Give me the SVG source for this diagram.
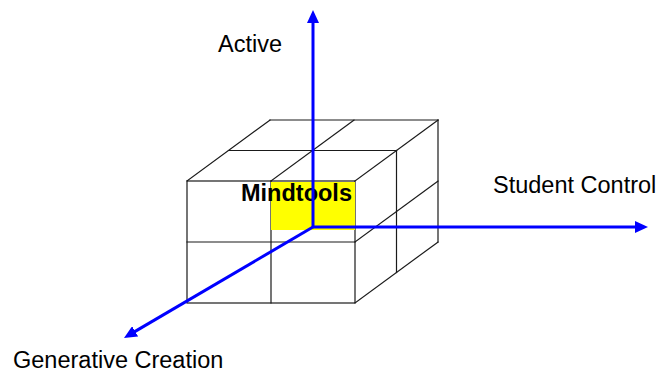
<svg xmlns="http://www.w3.org/2000/svg" width="672" height="372" viewBox="0 0 672 372">
<style>
.edge{stroke:#1a1a1a;stroke-width:1.2;fill:none;stroke-linecap:square}
.axis{stroke:#0000ff;stroke-width:3;fill:none}
.lbl{font-family:"Liberation Sans",Arial,sans-serif;font-size:23.5px;fill:#000}
.bold{font-weight:bold}
</style>
<defs>
<marker id="arr" markerUnits="userSpaceOnUse" markerWidth="14" markerHeight="12" refX="3" refY="6" orient="auto">
<path d="M0,0 L13,6 L0,12 z" fill="#0000ff"/>
</marker>
</defs>
<rect width="672" height="372" fill="#ffffff"/>
<g id="cube">
<rect class="edge" x="187" y="181" width="168" height="122"/>
<line class="edge" x1="271" y1="181" x2="271" y2="303"/>
<line class="edge" x1="187" y1="242" x2="355" y2="242"/>
<line class="edge" x1="228.5" y1="150.5" x2="396.5" y2="150.5"/>
<line class="edge" x1="270" y1="120" x2="438" y2="120"/>
<line class="edge" x1="187" y1="181" x2="270" y2="120"/>
<line class="edge" x1="271" y1="181" x2="354" y2="120"/>
<line class="edge" x1="355" y1="181" x2="438" y2="120"/>
<line class="edge" x1="396.5" y1="150.5" x2="396.5" y2="272.5"/>
<line class="edge" x1="438" y1="120" x2="438" y2="242"/>
<line class="edge" x1="355" y1="242" x2="438" y2="181"/>
<line class="edge" x1="355" y1="303" x2="438" y2="242"/>
</g>
<g id="mindtools">
<rect x="271" y="182" width="84" height="48" fill="#ffff00"/>
<text class="lbl bold" x="241" y="201">Mindtools</text>
</g>
<g id="connectors">
<line class="axis" x1="313" y1="227" x2="313" y2="20" marker-end="url(#arr)"/>
<line class="axis" x1="313" y1="227" x2="638" y2="227" marker-end="url(#arr)"/>
<line class="axis" x1="313" y1="227" x2="132.6" y2="332.9" marker-end="url(#arr)"/>
</g>
<g id="active"><text class="lbl" x="218" y="51.5">Active</text></g>
<g id="student-control"><text class="lbl" x="493" y="193">Student Control</text></g>
<g id="generative-creation"><text class="lbl" x="13" y="367.5">Generative Creation</text></g>
</svg>
